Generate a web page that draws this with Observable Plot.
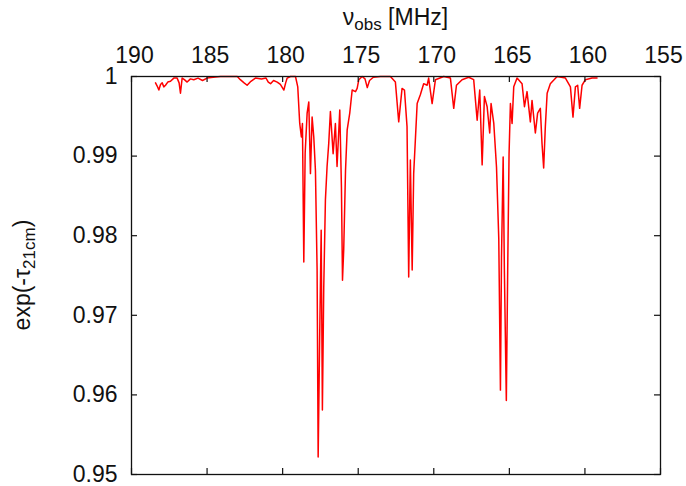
<!DOCTYPE html>
<html>
<head>
<meta charset="utf-8">
<script src="https://cdn.jsdelivr.net/npm/d3@7"></script>
<script src="https://cdn.jsdelivr.net/npm/@observablehq/plot@0.6"></script>
<style>
  html, body { margin: 0; padding: 0; background: #fff; }
  #chart svg { display: block; }
</style>
</head>
<body>
<div id="chart"></div>
<script>
const freq = [
  188.41, 188.30, 188.19, 188.08, 187.97, 187.86, 187.75, 187.60, 187.42, 187.20,
  186.98, 186.85, 186.76, 186.65, 186.50, 186.32, 186.10, 185.88, 185.60, 185.30,
  185.00, 184.60, 184.11, 183.50, 183.00, 182.80, 182.55, 182.35, 182.10, 181.80,
  181.40, 181.10, 180.95, 180.80, 180.60, 180.36, 180.15, 179.92, 179.80, 179.70,
  179.48, 179.15, 179.00, 178.87, 178.76, 178.69, 178.60, 178.51, 178.38, 178.27,
  178.16, 178.05, 177.94, 177.83, 177.72, 177.65, 177.55, 177.45, 177.37, 177.28,
  177.17, 177.06, 176.95, 176.84, 176.66, 176.51, 176.40, 176.22, 176.11, 176.04,
  175.96, 175.84, 175.73, 175.56, 175.40, 175.18, 175.07, 174.96, 174.74, 174.55,
  174.40, 174.25, 174.00, 173.53, 172.87, 172.54, 172.32, 172.10, 171.94, 171.77,
  171.66, 171.55, 171.43, 171.33, 171.22, 171.10, 170.89, 170.67, 170.44, 170.34,
  170.11, 169.89, 169.34, 168.90, 168.68, 168.50, 168.13, 167.69, 167.36, 167.13,
  166.96, 166.80, 166.65, 166.47, 166.30, 166.21, 166.03, 165.85, 165.70, 165.59,
  165.52, 165.41, 165.33, 165.20, 165.11, 165.02, 164.93, 164.82, 164.71, 164.49,
  164.16, 164.00, 163.83, 163.61, 163.50, 163.28, 163.13, 162.95, 162.84, 162.73,
  162.62, 162.50, 162.29, 161.84, 161.29, 160.96, 160.79, 160.63, 160.48, 160.35,
  160.19, 159.97, 159.53, 159.20
];
// exp(-tau_21cm) transmission values
const transmission = [
  0.9992, 0.9988, 0.9983, 0.9990, 0.9992, 0.9987, 0.9989, 0.9993, 0.9994, 0.9998,
  0.9998, 0.9992, 0.9979, 0.9998, 0.9996, 0.9993, 0.9997, 0.9996, 0.9998, 0.9995,
  0.9998, 0.9999, 1.0000, 1.0000, 1.0000, 0.9996, 0.9992, 0.9989, 0.9994, 0.9998,
  0.9997, 0.9998, 0.9993, 0.9991, 0.9995, 0.9993, 0.9990, 0.9983, 0.9992, 0.9998,
  1.0000, 1.0000, 0.9987, 0.9941, 0.9924, 0.9941, 0.9767, 0.9904, 0.9954, 0.9968,
  0.9878, 0.9949, 0.9924, 0.9882, 0.9757, 0.9522, 0.9673, 0.9807, 0.9581, 0.9736,
  0.9845, 0.9887, 0.9916, 0.9956, 0.9903, 0.9941, 0.9887, 0.9958, 0.9861, 0.9744,
  0.9782, 0.9882, 0.9933, 0.9954, 0.9983, 0.9981, 0.9985, 0.9996, 1.0000, 0.9997,
  0.9986, 0.9995, 0.9999, 1.0000, 1.0000, 0.9993, 0.9943, 0.9985, 0.9983, 0.9937,
  0.9748, 0.9895, 0.9757, 0.9878, 0.9920, 0.9966, 0.9977, 0.9991, 0.9989, 0.9998,
  0.9966, 0.9996, 1.0000, 0.9998, 0.9960, 0.9989, 0.9996, 0.9999, 0.9996, 0.9945,
  0.9983, 0.9889, 0.9975, 0.9962, 0.9929, 0.9966, 0.9941, 0.9886, 0.9796, 0.9606,
  0.9773, 0.9899, 0.9757, 0.9593, 0.9757, 0.9903, 0.9966, 0.9941, 0.9987, 0.9998,
  0.9991, 0.9962, 0.9981, 0.9943, 0.9970, 0.9929, 0.9954, 0.9960, 0.9916, 0.9885,
  0.9937, 0.9979, 0.9991, 1.0000, 0.9998, 0.9987, 0.9949, 0.9987, 0.9989, 0.9960,
  0.9989, 0.9996, 0.9998, 0.9998
];
const xTicks = [190, 185, 180, 175, 170, 165, 160, 155];
const yTicks = [0.95, 0.96, 0.97, 0.98, 0.99, 1];

const data = freq.map((f, i) => ({f, v: transmission[i]}));

const W = 686, H = 486, mL = 131, mR = 26, mT = 76, mB = 12;
const fw = W - mL - mR, fh = H - mT - mB, tl = 6;
const ink = "#111";

const svg = Plot.plot({
  width: W, height: H,
  marginLeft: mL, marginRight: mR, marginTop: mT, marginBottom: mB,
  style: {fontFamily: "'Liberation Sans', Arial, sans-serif", fontSize: "23px", color: ink, background: "#fff"},
  x: {domain: [190, 155]},
  y: {domain: [0.95, 1]},
  marks: [
    Plot.line(data, {x: "f", y: "v", stroke: "#ff0000", strokeWidth: 1.5, strokeLinejoin: "round"}),
    Plot.tickX(xTicks, {x: d => d, insetBottom: fh - tl, stroke: ink, strokeWidth: 1.2}),
    Plot.tickX(xTicks, {x: d => d, insetTop: fh - tl, stroke: ink, strokeWidth: 1.2}),
    Plot.tickY(yTicks, {y: d => d, insetRight: fw - tl, stroke: ink, strokeWidth: 1.2}),
    Plot.tickY(yTicks, {y: d => d, insetLeft: fw - tl, stroke: ink, strokeWidth: 1.2}),
    Plot.frame({stroke: ink, strokeWidth: 1.3}),
    Plot.axisX({anchor: "top", ticks: xTicks, tickSize: 0, tickPadding: 14, dx: 3, label: null, tickFormat: d => String(d)}),
    Plot.axisY({anchor: "left", ticks: yTicks, tickSize: 0, tickPadding: 14, label: null, tickFormat: d => d === 1 ? "1" : d.toFixed(2)})
  ]
});

const s = d3.select(svg);
const cx = mL + fw / 2, cy = mT + fh / 2;
const xt = s.append("text")
  .attr("x", cx).attr("y", 25)
  .attr("text-anchor", "middle")
  .attr("fill", ink)
  .style("font-size", "23px");
xt.append("tspan").text("ν");
xt.append("tspan").attr("dy", 5).style("font-size", "17px").text("obs");
xt.append("tspan").attr("dy", -5).text(" [MHz]");

const yt = s.append("text")
  .attr("transform", `translate(30,${cy}) rotate(-90)`)
  .attr("text-anchor", "middle")
  .attr("fill", ink)
  .style("font-size", "23px");
yt.append("tspan").text("exp(-τ");
yt.append("tspan").attr("dy", 5).style("font-size", "17px").text("21cm");
yt.append("tspan").attr("dy", -5).text(")");

document.getElementById("chart").appendChild(svg);
</script>
</body>
</html>
